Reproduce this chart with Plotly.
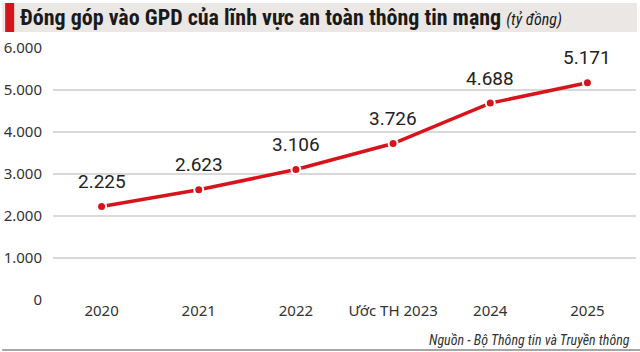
import plotly.graph_objects as go

categories = ["2020", "2021", "2022", "Ước TH 2023", "2024", "2025"]
values = [2225, 2623, 3106, 3726, 4688, 5171]
labels = ["2.225", "2.623", "3.106", "3.726", "4.688", "5.171"]
y_ticks = [0, 1000, 2000, 3000, 4000, 5000, 6000]
y_tick_labels = ["0", "1.000", "2.000", "3.000", "4.000", "5.000", "6.000"]

W, H = 640, 352
ML, MR, MT, MB = 51, 4, 48, 52
PW, PH = W - ML - MR, H - MT - MB

def px(x):
    return (x - ML) / PW

def py(y):
    return (H - MB - y) / PH

RED = "#d7141b"

fig = go.Figure()
fig.add_trace(go.Scatter(
    x=categories, y=values, mode="lines+markers",
    line=dict(color=RED, width=3.5),
    marker=dict(color=RED, size=9, line=dict(color="white", width=2)),
    cliponaxis=False, hoverinfo="skip",
))

annotations = []
for i, (v, t) in enumerate(zip(values, labels)):
    annotations.append(dict(x=i, y=v, xref="x", yref="y", text=t, showarrow=False, yshift=25,
                            font=dict(size=19, color="#222222", family="Roboto")))

annotations.append(dict(
    xref="paper", yref="paper", x=px(16), y=py(18), xanchor="left", yanchor="middle",
    text="<b>Đóng góp vào GPD của lĩnh vực an toàn thông tin mạng</b> <i><span style='font-size:16px;font-weight:normal'>(tỷ đồng)</span></i>",
    showarrow=False, font=dict(size=22, color="#1a1a1a", family="Liberation Sans Narrow, Roboto Condensed, Roboto")))
annotations.append(dict(
    xref="paper", yref="paper", x=px(632), y=py(340), xanchor="right", yanchor="middle",
    text="<i>Nguồn - Bộ Thông tin và Truyền thông</i>",
    showarrow=False, font=dict(size=14, color="#333333", family="Liberation Sans Narrow, Roboto Condensed, Roboto")))

shapes = [
    dict(type="rect", xref="paper", yref="paper", x0=px(0), x1=px(637), y0=py(32), y1=py(3),
         fillcolor="#ebe7e4", line=dict(width=0), layer="below"),
    dict(type="rect", xref="paper", yref="paper", x0=px(3), x1=px(12), y0=py(32), y1=py(3),
         fillcolor=RED, line=dict(width=0)),
    dict(type="line", xref="paper", yref="paper", x0=px(0), x1=px(640), y0=py(350), y1=py(350),
         line=dict(color="#888888", width=1.5)),
]

fig.update_layout(
    width=W, height=H, margin=dict(l=ML, r=MR, t=MT, b=MB),
    paper_bgcolor="white", plot_bgcolor="white", showlegend=False,
    annotations=annotations, shapes=shapes,
    xaxis=dict(type="category", range=[-0.5, 5.5], showgrid=False, zeroline=False,
               showline=False, ticks="", tickfont=dict(size=15, color="#333333", family="Noto Sans")),
    yaxis=dict(range=[0, 6000], tickvals=y_ticks, ticktext=y_tick_labels,
               showgrid=True, gridcolor="#d9d9d9", gridwidth=1.5, zeroline=False,
               showline=False, ticks="", ticklabelstandoff=10,
               tickfont=dict(size=15, color="#333333", family="Noto Sans")),
)

fig.write_html("out.html")
